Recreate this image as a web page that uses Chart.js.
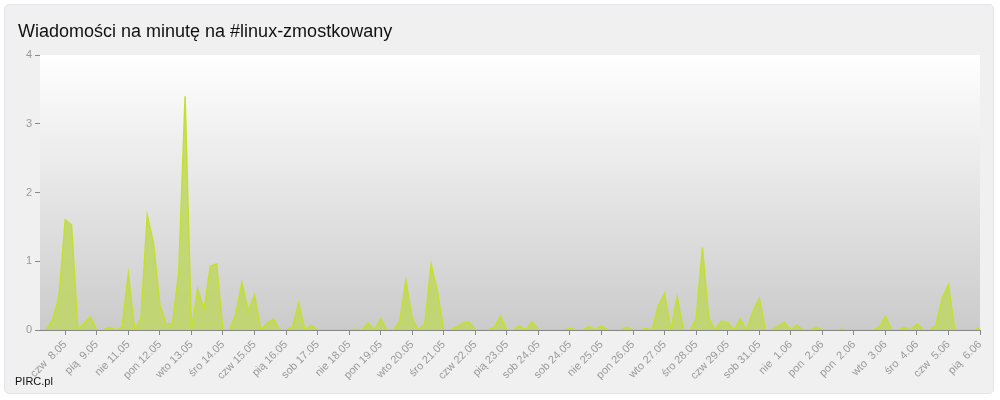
<!DOCTYPE html>
<html>
<head>
<meta charset="utf-8">
<script src="https://cdn.jsdelivr.net/npm/chart.js@4"></script>
<style>
  html, body { margin: 0; padding: 0; background: #fff; }
  #wrap { position: relative; width: 1000px; height: 400px; }
  #frame { position: absolute; left: 4px; top: 4px; width: 990px; height: 390px;
           background: #f0f0f0; border: 1px solid #e4e4ea; border-radius: 5px; box-sizing: border-box; }
  canvas { position: absolute; left: 0; top: 0; }
</style>
</head>
<body>
<div id="wrap">
  <div id="frame"></div>
  <canvas id="c" width="1000" height="400"></canvas>
</div>
<script>
const dayLabels = ['czw  8.05', 'pią  9.05', 'nie 11.05', 'pon 12.05', 'wto 13.05', 'śro 14.05',
  'czw 15.05', 'pią 16.05', 'sob 17.05', 'nie 18.05', 'pon 19.05', 'wto 20.05', 'śro 21.05',
  'czw 22.05', 'pią 23.05', 'sob 24.05', 'sob 24.05', 'nie 25.05', 'pon 26.05', 'wto 27.05',
  'śro 28.05', 'czw 29.05', 'sob 31.05', 'nie  1.06', 'pon  2.06', 'pon  2.06', 'wto  3.06',
  'śro  4.06', 'czw  5.06', 'pią  6.06'];

const messages = [
  0, 0, 0.15, 0.48, 1.6, 1.53, 0, 0.1, 0.19, 0,
  0, 0.04, 0, 0.04, 0.82, 0, 0.17, 1.67, 1.26, 0.36,
  0.09, 0.09, 0.85, 3.4, 0, 0.6, 0.3, 0.93, 0.96, 0,
  0, 0.22, 0.69, 0.27, 0.51, 0, 0.1, 0.16, 0, 0,
  0.04, 0.39, 0, 0.07, 0, 0, 0, 0, 0, 0,
  0.01, 0, 0.1, 0, 0.16, 0, 0, 0.12, 0.72, 0.17,
  0, 0.09, 0.96, 0.56, 0, 0, 0.04, 0.1, 0.12, 0,
  0, 0, 0.04, 0.2, 0, 0, 0.06, 0, 0.12, 0,
  0, 0, 0, 0, 0.02, 0, 0, 0.05, 0, 0.06,
  0, 0, 0, 0.04, 0, 0, 0.02, 0, 0.35, 0.53,
  0, 0.48, 0, 0, 0.16, 1.2, 0.18, 0, 0.13, 0.11,
  0, 0.16, 0, 0.27, 0.46, 0, 0, 0.06, 0.11, 0,
  0.07, 0, 0, 0.04, 0, 0, 0, 0.01, 0, 0,
  0, 0, 0, 0.04, 0.2, 0, 0, 0.04, 0, 0.09,
  0, 0, 0.07, 0.46, 0.66, 0, 0, 0, 0, 0.03
];

const yTicks = [0, 1, 2, 3, 4];
const labels = messages.map((v, i) => i);

const bgPlugin = {
  id: 'bg',
  beforeDatasetsDraw(chart) {
    const { ctx, chartArea: a } = chart;
    const g = ctx.createLinearGradient(0, a.top, 0, a.bottom);
    g.addColorStop(0, '#ffffff');
    g.addColorStop(1, '#cbcbcb');
    ctx.save();
    ctx.fillStyle = g;
    ctx.fillRect(a.left, a.top, a.right - a.left, a.bottom - a.top);
    ctx.restore();
  },
  afterDraw(chart) {
    const ctx = chart.ctx;
    ctx.save();
    ctx.fillStyle = '#111';
    ctx.font = '18px "Liberation Sans", Arial, sans-serif';
    ctx.textBaseline = 'alphabetic';
    ctx.fillText('Wiadomości na minutę na #linux-zmostkowany', 18, 37);
    ctx.font = '11px "Liberation Sans", Arial, sans-serif';
    ctx.fillText('PIRC.pl', 15, 385);
    ctx.restore();
  }
};

new Chart(document.getElementById('c'), {
  type: 'line',
  data: {
    labels: labels,
    datasets: [{
      data: messages,
      fill: true,
      backgroundColor: 'rgba(192, 214, 100, 0.85)',
      borderColor: '#c4e02c',
      borderWidth: 1.5,
      pointRadius: 0,
      tension: 0
    }]
  },
  options: {
    responsive: false,
    animation: false,
    layout: { padding: { left: 10, right: 20, top: 55, bottom: 20 } },
    plugins: { legend: { display: false }, tooltip: { enabled: false } },
    scales: {
      x: {
        type: 'category',
        offset: false,
        afterBuildTicks(scale) {
          scale.ticks = scale.ticks.filter(t => t.value % 5 === 4);
        },
        afterFit(scale) { scale.height = 50; },
        grid: { drawOnChartArea: false, drawTicks: true, tickLength: 5, color: '#888' },
        border: { color: '#888' },
        ticks: {
          autoSkip: false,
          maxRotation: 45,
          minRotation: 45,
          color: '#999',
          font: { size: 11, family: '"Liberation Sans", Arial, sans-serif' },
          callback: (v) => dayLabels[(v - 4) / 5]
        }
      },
      y: {
        min: 0,
        max: 4,
        afterFit(scale) { scale.width = 30; },
        afterBuildTicks(scale) { scale.ticks = yTicks.map(v => ({ value: v })); },
        grid: { drawOnChartArea: false, drawTicks: true, tickLength: 5, color: '#888' },
        border: { color: '#888' },
        ticks: {
          color: '#999',
          font: { size: 11, family: '"Liberation Sans", Arial, sans-serif' }
        }
      }
    }
  },
  plugins: [bgPlugin]
});
</script>
</body>
</html>
